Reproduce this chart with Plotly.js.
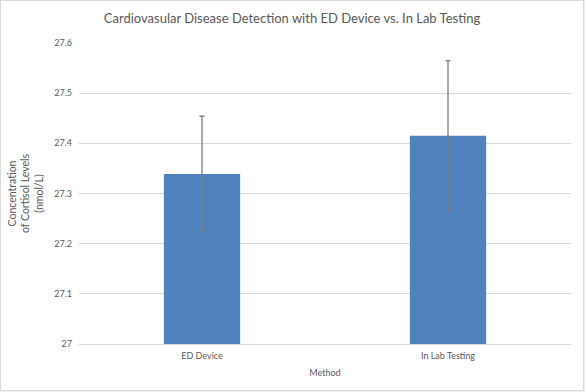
<!DOCTYPE html>
<html>
<head>
<meta charset="utf-8">
<script src="https://cdn.plot.ly/plotly-3.0.1.min.js"></script>
<style>
html,body{margin:0;padding:0;background:#f0f0f0;}
#wrap{position:absolute;left:0;top:0;width:584px;height:391px;box-sizing:border-box;border:1px solid #d9d9d9;background:#fff;}
#chart{width:582px;height:389px;}
</style>
</head>
<body>
<div id="wrap"><div id="chart"></div></div>
<script>
const categories = ["ED Device", "In Lab Testing"];
const meanValues = [27.339, 27.415];
const errorValues = [0.115, 0.15];
const yTicks = [27, 27.1, 27.2, 27.3, 27.4, 27.5, 27.6];
const yTickLabels = ["27", "27.1", "27.2", "27.3", "27.4", "27.5", "27.6"];

const textColor = "#595959";
const fontFamily = "Lato, 'Open Sans', sans-serif";

const trace = {
  type: "bar",
  x: categories,
  y: meanValues,
  base: 0,
  width: 0.31,
  marker: {color: "#4f81bd"},
  error_y: {type: "data", array: errorValues, visible: true, color: "#7f7f7f", thickness: 1.3, width: 2.5},
  hoverinfo: "x+y"
};

const layout = {
  width: 582, height: 389,
  margin: {l: 78, r: 12, t: 42, b: 46},
  paper_bgcolor: "#ffffff",
  plot_bgcolor: "#ffffff",
  showlegend: false,
  title: {text: "Cardiovasular Disease Detection with ED Device vs. In Lab Testing",
          font: {family: fontFamily, size: 13, color: textColor}, x: 0.5, xanchor: "center", y: 0.955, yanchor: "middle"},
  xaxis: {
    type: "category",
    showgrid: false,
    showline: true, linecolor: "#d9d9d9", linewidth: 1,
    ticks: "", ticklabelstandoff: 3,
    tickfont: {family: fontFamily, size: 9, color: textColor},
    title: {text: "Method", font: {family: fontFamily, size: 9, color: textColor}, standoff: 9}
  },
  yaxis: {
    range: [27, 27.6],
    tickvals: yTicks,
    ticktext: yTickLabels,
    showgrid: true, gridcolor: "#d9d9d9", gridwidth: 1,
    zeroline: false, showline: false,
    ticks: "", ticklabelstandoff: 6,
    tickfont: {family: fontFamily, size: 9, color: textColor},
    title: {text: "Concentration<br>of Cortisol Levels<br>(nmol/L)", font: {family: fontFamily, size: 10.5, color: textColor}, standoff: 8}
  }
};

Plotly.newPlot("chart", [trace], layout, {displayModeBar: false, staticPlot: true});
</script>
</body>
</html>
